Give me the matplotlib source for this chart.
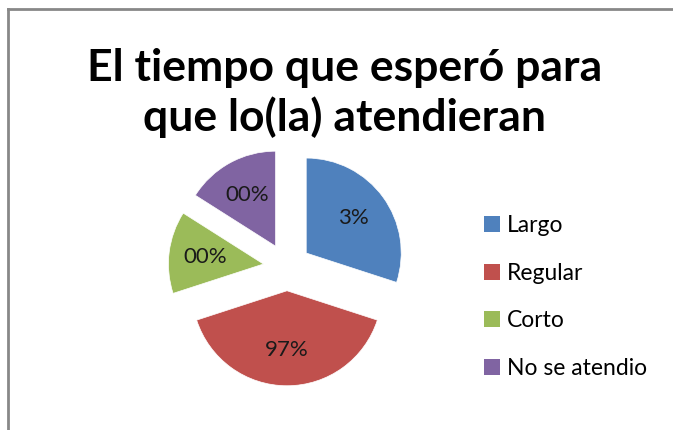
import matplotlib

matplotlib.use("Agg")
import matplotlib.pyplot as plt
from matplotlib.lines import Line2D
from matplotlib.patches import Patch

categories = ["Largo", "Regular", "Corto", "No se atendio"]
shares = [30, 40, 14, 16]
slice_labels = ["3%", "97%", "00%", "00%"]
colors = ["#4F81BD", "#C0504D", "#9BBB59", "#8064A2"]

title = "El tiempo que esperó para\nque lo(la) atendieran"

W, H = 673, 430
fig = plt.figure(figsize=(W / 100, H / 100), dpi=100)
plt.rcParams["font.family"] = ["Lato", "DejaVu Sans"]

# pie centre and radius in pixels
cx, cy, r = 287, 267, 95
lim = 1.4
side = 2 * lim * r
ax = fig.add_axes([(cx - side / 2) / W, 1 - (cy + side / 2) / H, side / W, side / H])
wedges, texts = ax.pie(shares, colors=colors, startangle=90, counterclock=False,
                       explode=[0.25] * 4, labels=slice_labels, labeldistance=0.62,
                       wedgeprops=dict(edgecolor="white", linewidth=0.5),
                       textprops=dict(fontsize=16, color="#1a1a1a"))
for t in texts:
    t.set_ha("center")
    t.set_va("center")
ax.set_xlim(-lim, lim)
ax.set_ylim(-lim, lim)
ax.set_aspect("equal")
ax.axis("off")

fig.text(345 / W, 1 - 93 / H, title, ha="center", va="center",
         fontsize=32, fontweight="bold", linespacing=1.25)

handles = [Patch(facecolor=c, edgecolor="none") for c in colors]
fig.legend(handles, categories, loc="upper left",
           bbox_to_anchor=(475 / W, 1 - 206 / H), frameon=False,
           fontsize=16.5, handlelength=0.7, handleheight=0.7,
           handletextpad=0.3, labelspacing=1.16, borderaxespad=0)

# chart frame: only left and top edges show in the crop
fig.add_artist(Line2D([8 / W, 8 / W], [0, 1 - 9 / H], transform=fig.transFigure,
                      color="#888888", lw=2))
fig.add_artist(Line2D([8 / W, 1], [1 - 9 / H, 1 - 9 / H], transform=fig.transFigure,
                      color="#888888", lw=2))

fig.savefig("out.png", dpi=100)
